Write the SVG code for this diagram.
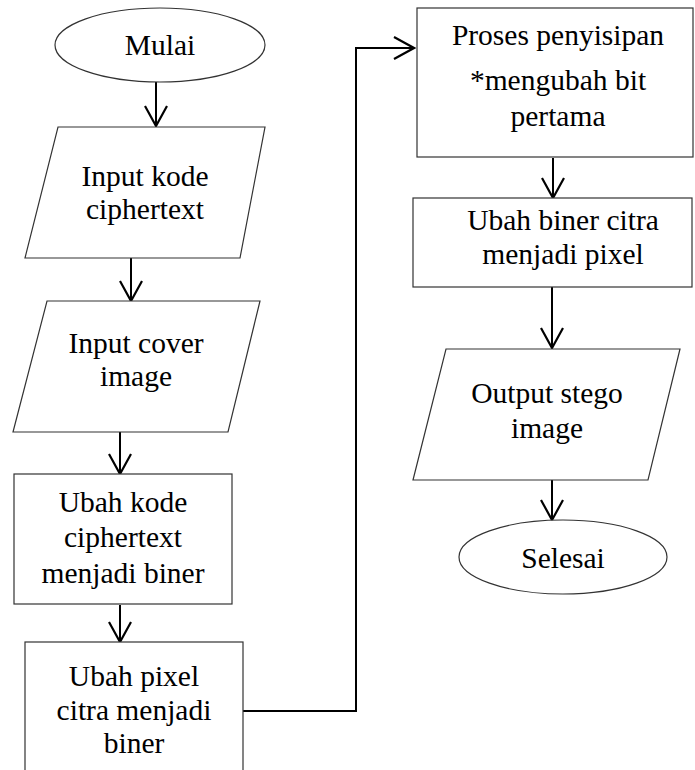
<svg xmlns="http://www.w3.org/2000/svg" width="695" height="770" viewBox="0 0 695 770">
  <defs>
    <marker id="arrow" viewBox="0 0 24 24" refX="22" refY="12" markerWidth="24" markerHeight="24" markerUnits="userSpaceOnUse" orient="auto">
      <path d="M2,1 L22,12 L2,23" fill="none" stroke="#000" stroke-width="2.2"/>
    </marker>
  </defs>
  <style>
    .shape { fill: #fff; stroke: #333; stroke-width: 1.2; }
    .label { font-family: "Liberation Serif", "Times New Roman", serif; font-size: 29.5px; fill: #000; text-anchor: middle; }
    .flow { fill: none; stroke: #000; stroke-width: 2; }
  </style>
  <rect width="695" height="770" fill="#fff"/>

  <g id="connectors">
    <line class="flow" x1="156" y1="82" x2="156" y2="126" marker-end="url(#arrow)"/>
    <line class="flow" x1="131" y1="258" x2="131" y2="301" marker-end="url(#arrow)"/>
    <line class="flow" x1="120" y1="432" x2="120" y2="474" marker-end="url(#arrow)"/>
    <line class="flow" x1="120" y1="605" x2="120" y2="642" marker-end="url(#arrow)"/>
    <polyline class="flow" points="243,711 356,711 356,48 414,48" marker-end="url(#arrow)"/>
    <line class="flow" x1="553" y1="158" x2="553" y2="198" marker-end="url(#arrow)"/>
    <line class="flow" x1="552" y1="287" x2="552" y2="348" marker-end="url(#arrow)"/>
    <line class="flow" x1="552" y1="480" x2="552" y2="520" marker-end="url(#arrow)"/>
  </g>

  <g id="mulai">
    <ellipse class="shape" cx="160" cy="45" rx="105" ry="37"/>
    <text class="label" x="160" y="55">Mulai</text>
  </g>

  <g id="input-kode">
    <polygon class="shape" points="58,127 265,127 240,258 25,258"/>
    <text class="label" x="145" y="186">Input kode</text>
    <text class="label" x="145" y="219">ciphertext</text>
  </g>

  <g id="input-cover">
    <polygon class="shape" points="47,301 260,301 228,432 13,432"/>
    <text class="label" x="136" y="353">Input cover</text>
    <text class="label" x="136" y="386">image</text>
  </g>

  <g id="ubah-kode">
    <rect class="shape" x="14" y="474" width="218" height="130"/>
    <text class="label" x="123" y="512">Ubah kode</text>
    <text class="label" x="123" y="547">ciphertext</text>
    <text class="label" x="123" y="583">menjadi biner</text>
  </g>

  <g id="ubah-pixel">
    <rect class="shape" x="25" y="642" width="218" height="140"/>
    <text class="label" x="134" y="686">Ubah pixel</text>
    <text class="label" x="134" y="720">citra menjadi</text>
    <text class="label" x="134" y="753">biner</text>
  </g>

  <g id="proses-penyisipan">
    <rect class="shape" x="417" y="8" width="276" height="149"/>
    <text class="label" x="558" y="45">Proses penyisipan</text>
    <text class="label" x="558" y="90">*mengubah bit</text>
    <text class="label" x="558" y="126">pertama</text>
  </g>

  <g id="ubah-biner">
    <rect class="shape" x="413" y="198" width="279" height="89"/>
    <text class="label" x="563" y="230">Ubah biner citra</text>
    <text class="label" x="563" y="264">menjadi pixel</text>
  </g>

  <g id="output-stego">
    <polygon class="shape" points="446,349 680,349 648,480 413,480"/>
    <text class="label" x="547" y="403">Output stego</text>
    <text class="label" x="547" y="438">image</text>
  </g>

  <g id="selesai">
    <ellipse class="shape" cx="563" cy="557" rx="104" ry="37"/>
    <text class="label" x="563" y="568">Selesai</text>
  </g>
</svg>
